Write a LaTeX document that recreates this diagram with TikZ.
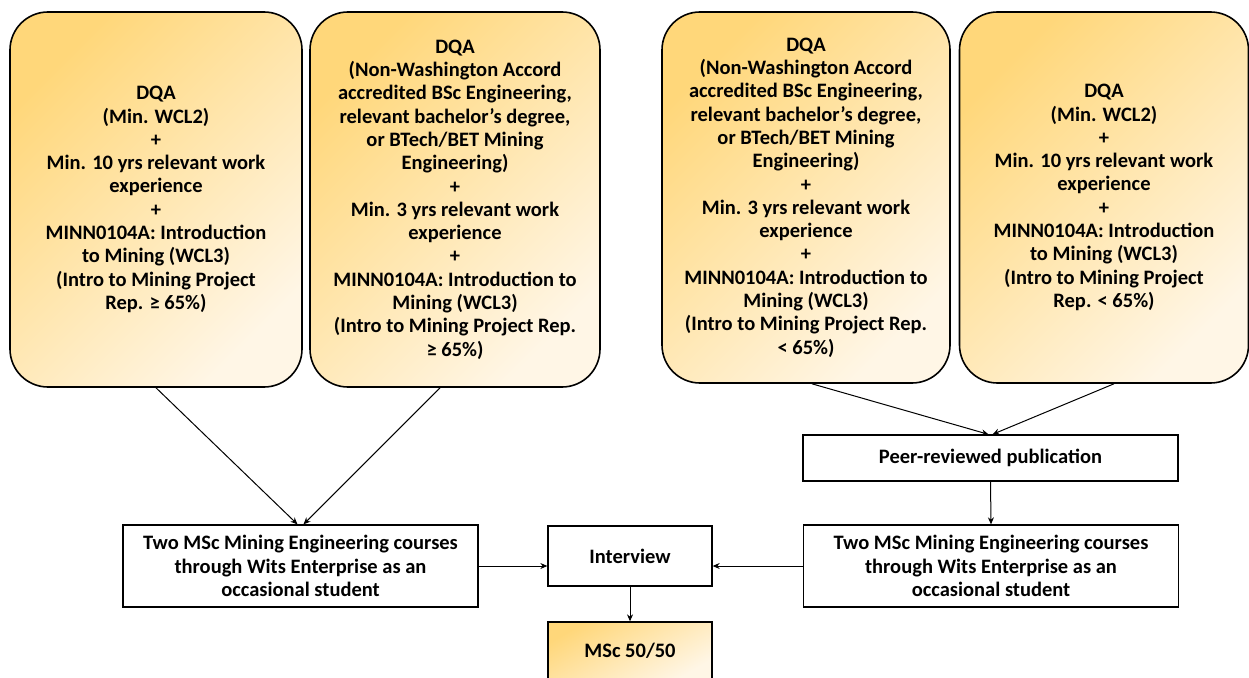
\documentclass[tikz,border=0pt]{standalone}
\usepackage{fontspec}
\setmainfont{Carlito}
\usetikzlibrary{arrows.meta}
\definecolor{goldDark}{HTML}{FFD77A}
\definecolor{goldLight}{HTML}{FFF6E6}
\begin{document}
\begin{tikzpicture}[x=1pt,y=-1pt,
  font=\fontsize{20.5}{23.3}\selectfont\bfseries,
  req/.style={draw, line width=1.6pt, rounded corners=38pt, align=center,
    top color=goldDark, bottom color=goldLight, shading angle=45,
    inner sep=0pt},
  stage/.style={draw, line width=1.3pt, align=center, fill=white, inner sep=0pt},
  arr/.style={-{Stealth[length=7pt,width=6pt]}, line width=1pt}]
\useasboundingbox (0,0) rectangle (1249,677);

% entry requirement boxes
\node[req, minimum width=292pt, minimum height=375pt] (A) at (156,199.5)
  {DQA\\(Min. WCL2)\\+\\Min. 10 yrs relevant work\\experience\\+\\MINN0104A: Introduction\\to Mining (WCL3)\\(Intro to Mining Project\\Rep. ≥ 65\%)};
\node[req, minimum width=290pt, minimum height=375pt] (B) at (455,199.5)
  {DQA\\(Non-Washington Accord\\accredited BSc Engineering,\\relevant bachelor's degree,\\or BTech/BET Mining\\Engineering)\\+\\Min. 3 yrs relevant work\\experience\\+\\MINN0104A: Introduction to\\Mining (WCL3)\\(Intro to Mining Project Rep.\\≥ 65\%)};
\node[req, minimum width=288pt, minimum height=371pt] (C) at (806,197.5)
  {DQA\\(Non-Washington Accord\\accredited BSc Engineering,\\relevant bachelor's degree,\\or BTech/BET Mining\\Engineering)\\+\\Min. 3 yrs relevant work\\experience\\+\\MINN0104A: Introduction to\\Mining (WCL3)\\(Intro to Mining Project Rep.\\< 65\%)};
\node[req, minimum width=289pt, minimum height=371pt] (D) at (1104,197.5)
  {DQA\\(Min. WCL2)\\+\\Min. 10 yrs relevant work\\experience\\+\\MINN0104A: Introduction\\to Mining (WCL3)\\(Intro to Mining Project\\Rep. < 65\%)};

% process stages
\node[stage, minimum width=375pt, minimum height=46pt] (P) at (990.5,458)
  {Peer-reviewed publication};
\node[stage, minimum width=355pt, minimum height=82pt] (L) at (300.5,566)
  {Two MSc Mining Engineering courses\\through Wits Enterprise as an\\occasional student};
\node[stage, minimum width=375pt, minimum height=82pt] (R) at (991,566)
  {Two MSc Mining Engineering courses\\through Wits Enterprise as an\\occasional student};
\node[stage, minimum width=164pt, minimum height=60pt] (I) at (630,556)
  {Interview};
\node[stage, minimum width=164pt, minimum height=58pt, fill=none,
  top color=goldDark, bottom color=goldLight, shading angle=30] (M) at (630,651)
  {MSc 50/50};

% connectors
\draw[arr] (A.south) -- ([xshift=-3pt]L.north);
\draw[arr] ([xshift=-15pt]B.south) -- ([xshift=3pt]L.north);
\draw[arr] ([xshift=6pt]C.south) -- ([xshift=-2pt]P.north);
\draw[arr] ([xshift=10pt]D.south) -- ([xshift=2pt]P.north);
\draw[arr] (P.south) -- (R.north);
\draw[arr] (L.east) -- (L.east -| I.west);
\draw[arr] (R.west) -- (R.west -| I.east);
\draw[arr] (I.south) -- (M.north);
\end{tikzpicture}
\end{document}
